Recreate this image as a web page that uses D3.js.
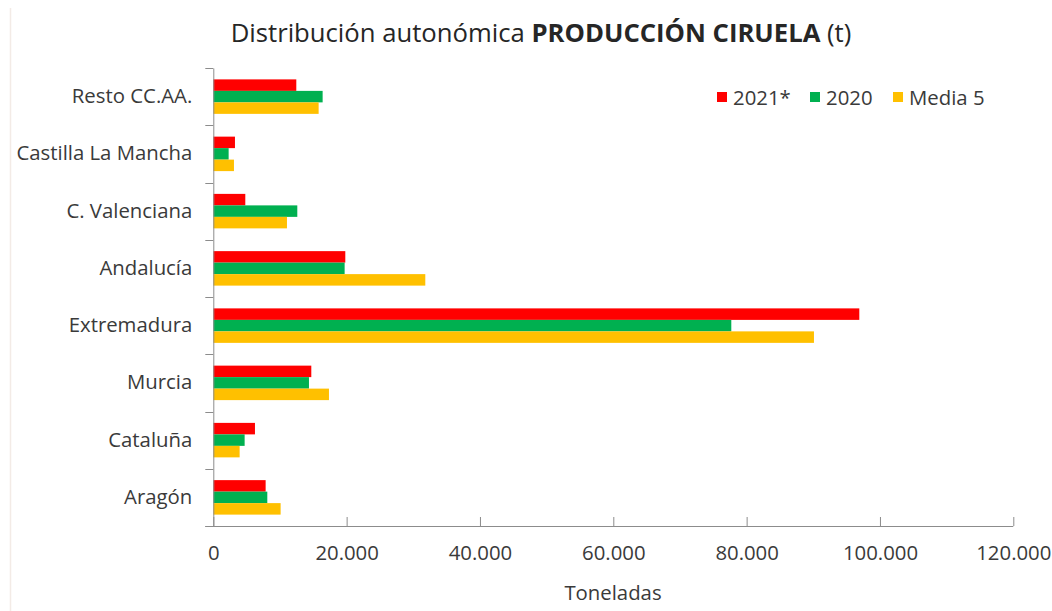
<!DOCTYPE html>
<html><head><meta charset="utf-8">
<script src="https://cdnjs.cloudflare.com/ajax/libs/d3/7.8.5/d3.min.js"></script>
<style>
html,body{margin:0;padding:0;background:#fff;}
svg{display:block;font-family:"Open Sans",sans-serif;}
</style></head>
<body>
<svg id="chart" width="1052" height="611"></svg>
<script>
// ---- data ----
const categories = ["Resto CC.AA.","Castilla La Mancha","C. Valenciana","Andalucía","Extremadura","Murcia","Cataluña","Aragón"];
const seriesNames = ["2021*","2020","Media 5"];
const values2021 = [12450, 3250, 4800, 19800, 96900, 14700, 6250, 7850];
const values2020 = [16400, 2300, 12600, 19700, 77700, 14350, 4700, 8100];
const valuesMedia5 = [15800, 3100, 11050, 31800, 90100, 17350, 3950, 10100];
const xTicks = [0, 20000, 40000, 60000, 80000, 100000, 120000];
const seriesColors = ["#FF0000","#00B050","#FFC000"];

const seriesValues = [values2021, values2020, valuesMedia5];

const svg = d3.select("#chart");
const W = 1052, H = 611;
const m = {left: 213.3, right: 1013.3, top: 68, bottom: 526};

// faint frame line at left
svg.append("line").attr("x1",10.5).attr("x2",10.5).attr("y1",8).attr("y2",H)
  .attr("stroke","#f3ebe6").attr("stroke-width",1.5);

const x = d3.scaleLinear().domain([0,120000]).range([m.left, m.right]);
const y = d3.scaleBand().domain(categories).range([m.top, m.bottom]).paddingInner(0).paddingOuter(0);
const inner = d3.scaleBand().domain(seriesNames).range([0, y.bandwidth()]).paddingInner(0).paddingOuter(0.99);

const loc = d3.formatLocale({decimal:",", thousands:".", grouping:[3], currency:["",""]});
const fmt = loc.format(",");

const textColor = "#3a3a3a";
const labelSize = 17.5;

// bars
const groups = svg.append("g").selectAll("g").data(categories).join("g")
  .attr("transform", d => `translate(0,${y(d)})`);
groups.selectAll("rect")
  .data((d,i) => seriesNames.map((s,j) => ({s, v: seriesValues[j][i], c: seriesColors[j]})))
  .join("rect")
  .attr("x", x(0))
  .attr("y", d => inner(d.s))
  .attr("width", d => x(d.v) - x(0))
  .attr("height", inner.bandwidth())
  .attr("fill", d => d.c);

// x axis
const xAxis = svg.append("g").attr("transform", `translate(0,${m.bottom})`)
  .call(d3.axisBottom(x).tickValues(xTicks).tickFormat(fmt).tickSize(-9).tickSizeOuter(0).tickPadding(20));
xAxis.select(".domain").attr("stroke","#8c8c8c").attr("d", `M${m.left-8},0.5H${m.right}`);
xAxis.selectAll(".tick line").attr("stroke","#8c8c8c");
xAxis.selectAll("text").attr("fill", textColor).style("font-size", labelSize+"px").style("font-family","Open Sans");

// y axis labels
const yAxis = svg.append("g").attr("transform", `translate(${m.left},0)`)
  .call(d3.axisLeft(y).tickSize(0).tickPadding(21));
yAxis.select(".domain").attr("stroke","#8c8c8c");
yAxis.selectAll("text").attr("fill", textColor).style("font-size", labelSize+"px").style("font-family","Open Sans");
// boundary ticks
const edges = categories.map(c => y(c)).concat([m.bottom]);
svg.append("g").selectAll("line").data(edges).join("line")
  .attr("x1", m.left-8).attr("x2", m.left).attr("y1", d => Math.round(d)+0.5).attr("y2", d => Math.round(d)+0.5)
  .attr("stroke","#8c8c8c");

// fit label font to reference widths
function fitSize(sel, target){
  const node = sel.node();
  const w = node.getComputedTextLength();
  const cur = parseFloat(getComputedStyle(node).fontSize);
  return cur * target / w;
}
const castTxt = yAxis.selectAll("text").filter(d => d === "Castilla La Mancha");
const ys = fitSize(castTxt, 176);
yAxis.selectAll("text").style("font-size", ys+"px");
xAxis.selectAll("text").style("font-size", ys+"px");

// x axis title
svg.append("text").attr("x", 613).attr("y", 600).attr("text-anchor","middle")
  .attr("fill", textColor).style("font-size", ys+"px").text("Toneladas");

// title
const title = svg.append("text").attr("x", 541).attr("y", 42).attr("text-anchor","middle")
  .attr("fill","#262626").style("font-size","22px");
title.append("tspan").text("Distribución autonómica ");
title.append("tspan").attr("font-weight","bold").text("PRODUCCIÓN CIRUELA");
title.append("tspan").text(" (t)");
const tw = title.node().getComputedTextLength();
title.style("font-size", (22*621/tw)+"px");

// legend
const legX = [717, 810, 893];
const leg = svg.append("g").selectAll("g").data(seriesNames).join("g")
  .attr("transform", (d,i) => `translate(${legX[i]},0)`);
leg.append("rect").attr("x",0).attr("y",92).attr("width",10).attr("height",10)
  .attr("fill", (d,i) => seriesColors[i]);
leg.append("text").attr("x",16).attr("y",105).attr("fill",textColor)
  .style("font-size", ys+"px").text(d => d);
</script>
</body></html>
